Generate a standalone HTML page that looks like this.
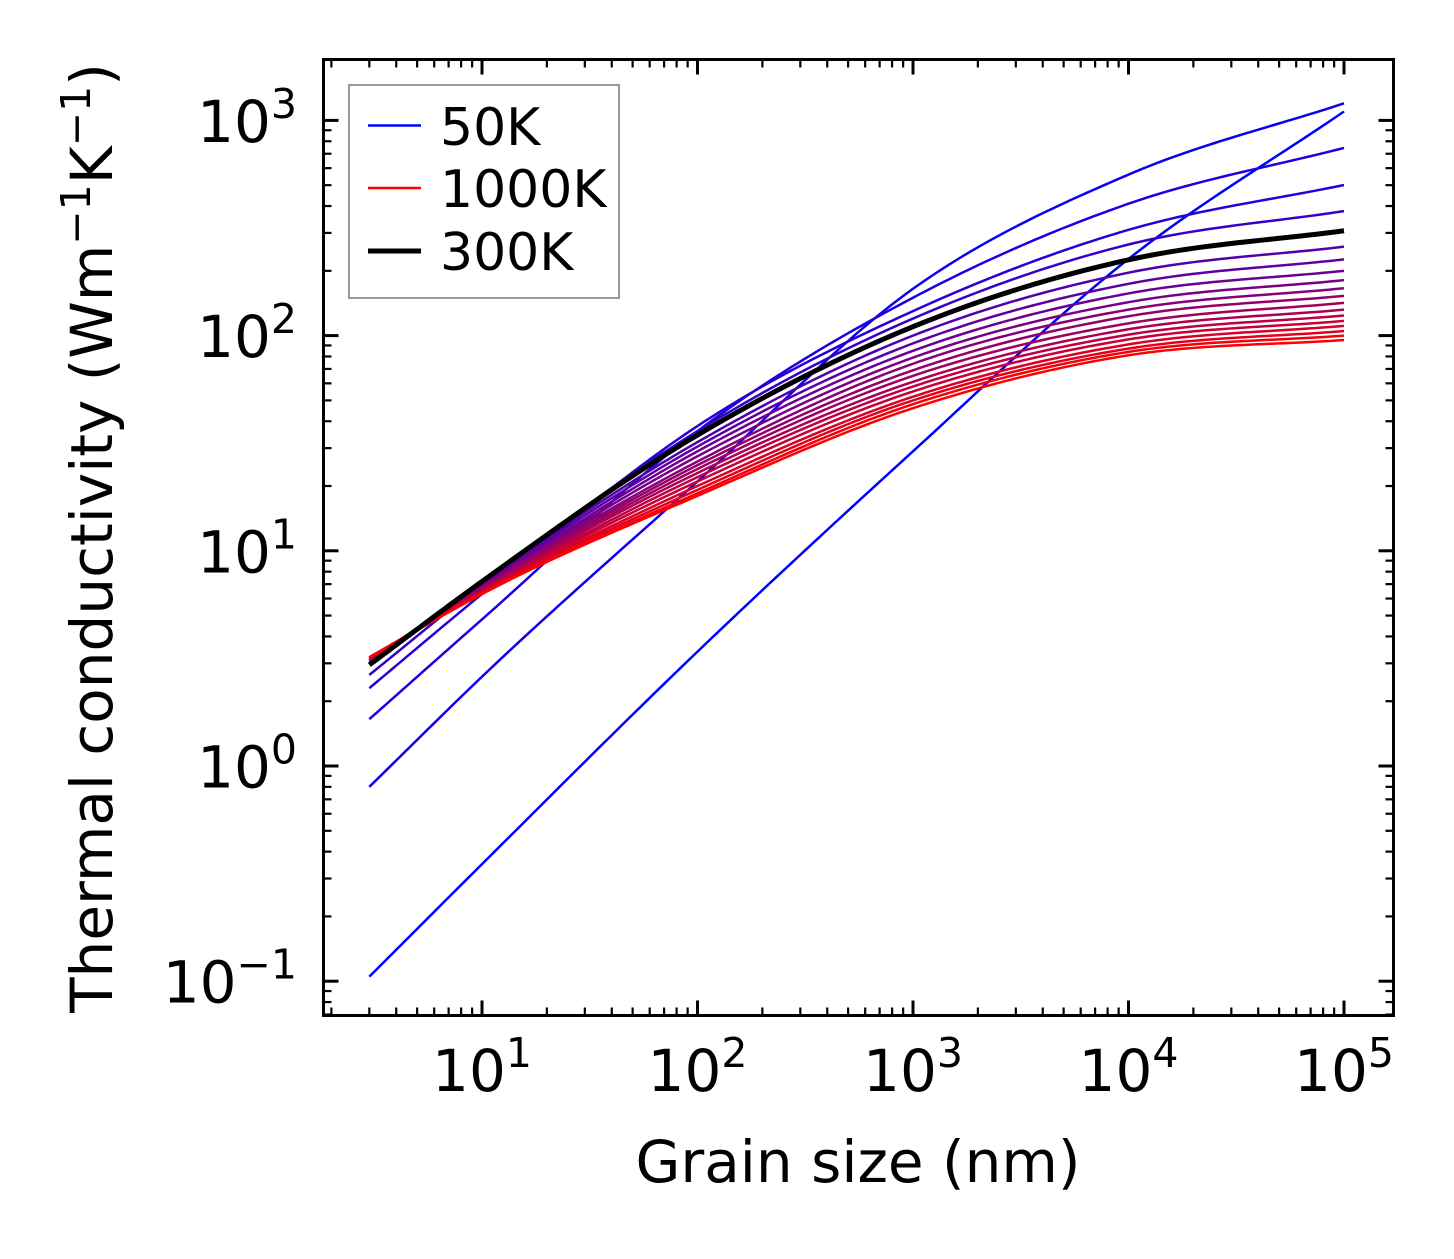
<!DOCTYPE html>
<html><head><meta charset="utf-8">
<style>
html,body{margin:0;padding:0;background:#fff;}
svg text{font-family:"DejaVu Sans","Liberation Sans",sans-serif;fill:#000;}
</style></head>
<body>
<svg id="chart" width="1454" height="1254" viewBox="0 0 1454 1254" xmlns="http://www.w3.org/2000/svg">
<rect width="1454" height="1254" fill="#fff"/>
<g id="curves"></g>
<g id="ticks"></g>
<rect x="323.5" y="59.5" width="1070" height="956" fill="none" stroke="#000" stroke-width="3"/>
<text x="858" y="1182" font-size="58" text-anchor="middle">Grain size (nm)</text>
<text transform="translate(112,538) rotate(-90)" font-size="58" text-anchor="middle">Thermal conductivity (Wm<tspan dy="-22" font-size="41">−1</tspan><tspan dy="22">K</tspan><tspan dy="-22" font-size="41">−1</tspan><tspan dy="22">)</tspan></text>
<g>
<rect x="349" y="85" width="270" height="213" fill="#fff" stroke="#999" stroke-width="2"/>
<line x1="368" y1="125.5" x2="421" y2="125.5" stroke="#0000ff" stroke-width="2.5"/>
<text x="440" y="145" font-size="52">50K</text>
<line x1="368" y1="188" x2="421" y2="188" stroke="#ff0000" stroke-width="2.5"/>
<text x="440" y="207" font-size="52">1000K</text>
<line x1="368" y1="251" x2="421" y2="251" stroke="#000" stroke-width="5"/>
<text x="440" y="270" font-size="52">300K</text>
</g>
</svg>
<script>
const grainSizes = [3, 10, 100, 1000, 10000, 100000];
const temps = [50,100,150,200,250,350,400,450,500,550,600,650,700,750,800,850,900,950,1000];
const k50 = [0.105, 0.35, 3.4, 29, 227, 1100];
const k100 = [0.8, 2.6, 21, 165, 560, 1200];
const k150 = [1.65, 4.8, 36, 150, 410, 745];
const k200 = [2.3, 6.3, 38, 130, 310, 501];
const k250 = [2.65, 7.0, 36, 120, 265, 379];
const k300 = [2.95, 7.2, 34.5, 110, 225, 307];
const k350 = [3.0, 7.1, 32, 100, 196, 259];
const k400 = [3.05, 7.0, 30.5, 92, 174, 226];
const k450 = [3.1, 6.9, 29, 85, 157, 200];
const k500 = [3.1, 6.85, 27.5, 79, 143, 181];
const k550 = [3.1, 6.8, 26, 74, 132, 166];
const k600 = [3.1, 6.7, 25, 69, 123, 153];
const k650 = [3.15, 6.65, 24, 65, 114, 142];
const k700 = [3.15, 6.6, 23, 61, 107, 132];
const k750 = [3.15, 6.5, 22, 58, 101, 124];
const k800 = [3.15, 6.45, 21, 55, 96, 117];
const k850 = [3.2, 6.4, 20, 52, 91, 111];
const k900 = [3.2, 6.35, 19.2, 50, 87, 105];
const k950 = [3.2, 6.3, 18.5, 48, 84, 100];
const k1000 = [3.2, 6.3, 18, 46, 81, 95.4];
const colorSeries = [k50,k100,k150,k200,k250,k350,k400,k450,k500,k550,k600,k650,k700,k750,k800,k850,k900,k950,k1000];
const xTickLabels = ["1","2","3","4","5"];
const yTickLabels = ["−1","0","1","2","3"];

const NS="http://www.w3.org/2000/svg";
const X0=266.5, XD=215.5, Y0=766, YD=215.2;
const L=323.5,R=1393.5,T=59.5,B=1015.5;
function xs(v){return X0+XD*Math.log10(v);}
function ys(v){return Y0-YD*Math.log10(v);}
function pathFor(vals){
  const px=grainSizes.map(g=>Math.log10(g)), py=vals.map(v=>Math.log10(v));
  const n=px.length, m=[];
  for(let i=0;i<n;i++){
    if(i===0) m.push((py[1]-py[0])/(px[1]-px[0]));
    else if(i===n-1) m.push((py[n-1]-py[n-2])/(px[n-1]-px[n-2]));
    else {
      const h0=px[i]-px[i-1], h1=px[i+1]-px[i];
      const d0=(py[i]-py[i-1])/h0, d1=(py[i+1]-py[i])/h1;
      m.push((h1*d0+h0*d1)/(h0+h1));
    }
  }
  let d="";
  for(let i=0;i<n-1;i++){
    const h=px[i+1]-px[i];
    for(let s=0;s<=30;s++){
      if(i>0&&s===0) continue;
      const t=s/30,t2=t*t,t3=t2*t;
      const y=(2*t3-3*t2+1)*py[i]+(t3-2*t2+t)*h*m[i]+(-2*t3+3*t2)*py[i+1]+(t3-t2)*h*m[i+1];
      const xx=px[i]+t*h;
      d+=(d?"L":"M")+(X0+XD*xx).toFixed(2)+","+(Y0-YD*y).toFixed(2);
    }
  }
  return d;
}
const cg=document.getElementById("curves");
colorSeries.forEach((vals,i)=>{
  const f=(temps[i]-50)/950;
  const p=document.createElementNS(NS,"path");
  p.setAttribute("d",pathFor(vals));
  p.setAttribute("fill","none");
  p.setAttribute("stroke","rgb("+Math.round(255*f)+",0,"+Math.round(255*(1-f))+")");
  p.setAttribute("stroke-width","2.5");
  
  
  cg.appendChild(p);
});
const bp=document.createElementNS(NS,"path");
bp.setAttribute("d",pathFor(k300));
bp.setAttribute("fill","none");bp.setAttribute("stroke","#000");bp.setAttribute("stroke-width","5");


cg.appendChild(bp);

const tg=document.getElementById("ticks");
function ln(x1,y1,x2,y2,w){const l=document.createElementNS(NS,"line");l.setAttribute("x1",x1);l.setAttribute("y1",y1);l.setAttribute("x2",x2);l.setAttribute("y2",y2);l.setAttribute("stroke","#000");l.setAttribute("stroke-width",w);


tg.appendChild(l);}
for(let e=0;e<=5;e++){for(let k=1;k<10;k++){const x=xs(k*Math.pow(10,e));if(x<L||x>R)continue;const len=k===1?15:8;ln(x,B,x,B-len,k===1?3:2.2);ln(x,T,x,T+len,k===1?3:2.2);}}
for(let e=-2;e<=3;e++){for(let k=1;k<10;k++){const y=ys(k*Math.pow(10,e));if(y<T||y>B)continue;const len=k===1?15:8;ln(L,y,L+len,y,k===1?3:2.2);ln(R,y,R-len,y,k===1?3:2.2);}}
xTickLabels.forEach((lab,i)=>{
  const x=xs(Math.pow(10,+lab));
  const t=document.createElementNS(NS,"text");
  t.setAttribute("x",x);t.setAttribute("y",1091);t.setAttribute("font-size","58");t.setAttribute("text-anchor","middle");
  t.innerHTML='10<tspan dy="-24" font-size="41">'+lab+'</tspan>';
  
  
  tg.appendChild(t);
});
yTickLabels.forEach((lab,i)=>{
  const v=parseFloat(lab.replace("−","-"));
  const y=ys(Math.pow(10,v));
  const t=document.createElementNS(NS,"text");
  t.setAttribute("x",297);t.setAttribute("y",y+21.5);t.setAttribute("font-size","58");t.setAttribute("text-anchor","end");
  t.innerHTML='10<tspan dy="-24" font-size="41">'+lab+'</tspan>';
  
  
  tg.appendChild(t);
});
</script>
</body></html>
